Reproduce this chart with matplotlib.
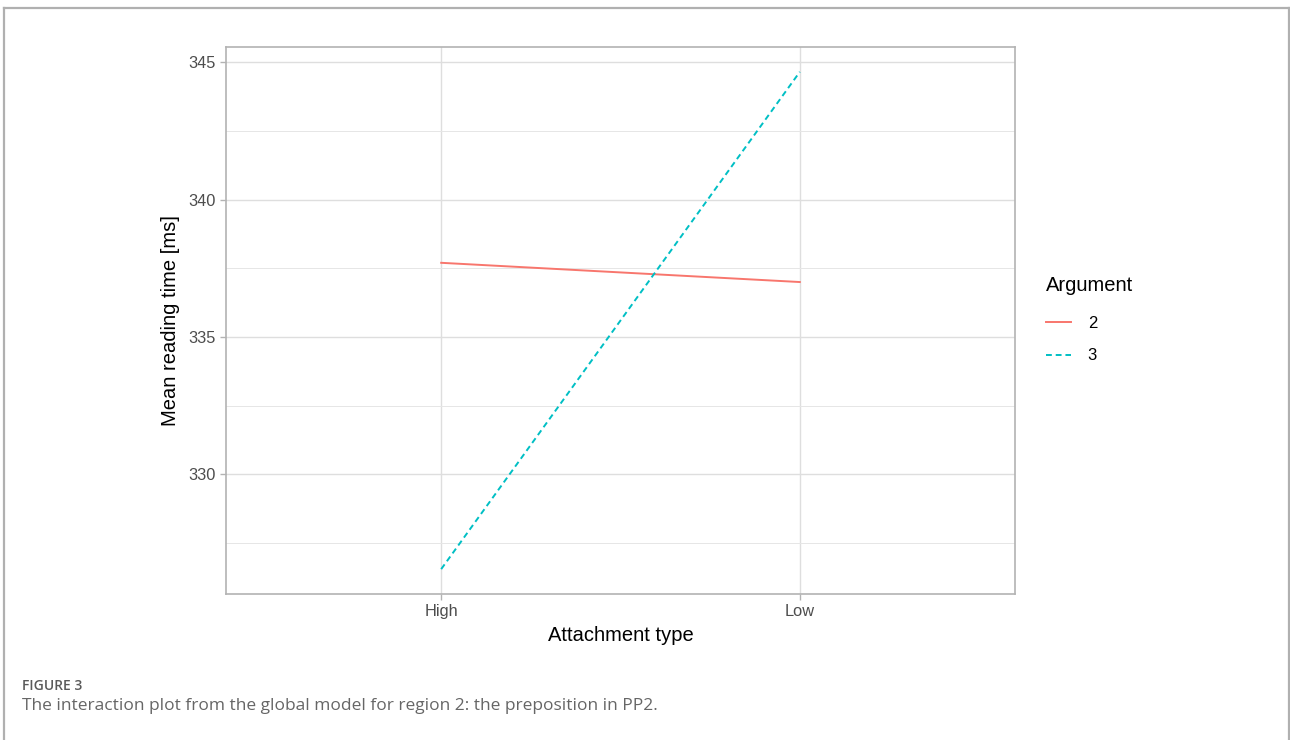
import numpy as np
import matplotlib
matplotlib.use('Agg')
import matplotlib.pyplot as plt
from matplotlib.lines import Line2D

# values
attachment = ['High', 'Low']
arg2 = [337.7, 337.0]
arg3 = [326.55, 344.65]
arguments = ['2', '3']
colors = ['#F8766D', '#00BFC4']
styles = ['-', (0, (3, 2))]

plt.rcParams['font.family'] = ['Liberation Sans', 'DejaVu Sans']

fig = plt.figure(figsize=(12.9, 7.4), dpi=100)
W, H = 1290, 740

# outer frame (left, top, right only)
fig.add_artist(Line2D([3.5/W, 3.5/W], [0, 1-8/H], color='#b0b0b0', lw=1.6))
fig.add_artist(Line2D([3.5/W, 1-1.5/W], [1-8/H, 1-8/H], color='#b0b0b0', lw=1.6))
fig.add_artist(Line2D([1-1.5/W, 1-1.5/W], [0, 1-8/H], color='#b0b0b0', lw=1.6))

ax = fig.add_axes([226/W, 1-594/H, (1015-226)/W, (594-47)/H])
x = np.arange(1, len(attachment)+1)
for vals, c, ls in zip([arg2, arg3], colors, styles):
    ax.plot(x, vals, color=c, linestyle=ls, lw=1.4)

ax.set_xlim(0.4, 2.6)
allv = arg2 + arg3
lo, hi = min(allv), max(allv)
pad = (hi-lo)*0.05
ax.set_ylim(lo-pad, hi+pad)
ax.set_xticks(x)
ax.set_xticklabels(attachment)
ax.set_yticks([330, 335, 340, 345])
ax.set_yticks([327.5, 332.5, 337.5, 342.5], minor=True)
ax.set_xticks([1.5], minor=True)
ax.grid(which='major', color='#DEDEDE', lw=1.0)
ax.grid(which='minor', axis='y', color='#E6E6E6', lw=0.7)
ax.set_axisbelow(True)
for s in ax.spines.values():
    s.set_color('#B3B3B3')
    s.set_linewidth(1.2)
ax.tick_params(which='major', colors='#B3B3B3', length=4, width=1, labelcolor='#4D4D4D', labelsize=11.8)
ax.tick_params(which='minor', length=0)
ax.set_xlabel('Attachment type', fontsize=14.5, labelpad=5)
ax.set_ylabel('Mean reading time [ms]', fontsize=14.5, labelpad=6)

handles = [Line2D([], [], color=c, linestyle=ls, lw=1.4) for c, ls in zip(colors, styles)]
leg = fig.legend(handles, arguments, title='Argument', loc='upper left',
                 bbox_to_anchor=(1031/W, 1-261/H), frameon=False, fontsize=12,
                 title_fontsize=14.5, handlelength=1.5, labelspacing=1.05,
                 handletextpad=1.0)
leg._legend_box.align = 'left'
leg._legend_box.sep = 15
# ggplot indents the keys a little under the title
leg._legend_handle_box.set_offset(lambda w, h, xd, yd, r: (4, 0))

fig.text(22/W, 1-686/H, 'FIGURE 3', fontsize=10, color='#5a5a5a', va='center',
         family=['Open Sans', 'DejaVu Sans'], fontweight='semibold')
fig.text(22/W, 1-706/H, 'The interaction plot from the global model for region 2: the preposition in PP2.',
         fontsize=12.5, color='#666666', va='center', family=['Open Sans', 'DejaVu Sans'])

fig.savefig('out.png', dpi=100)
plt.close()
